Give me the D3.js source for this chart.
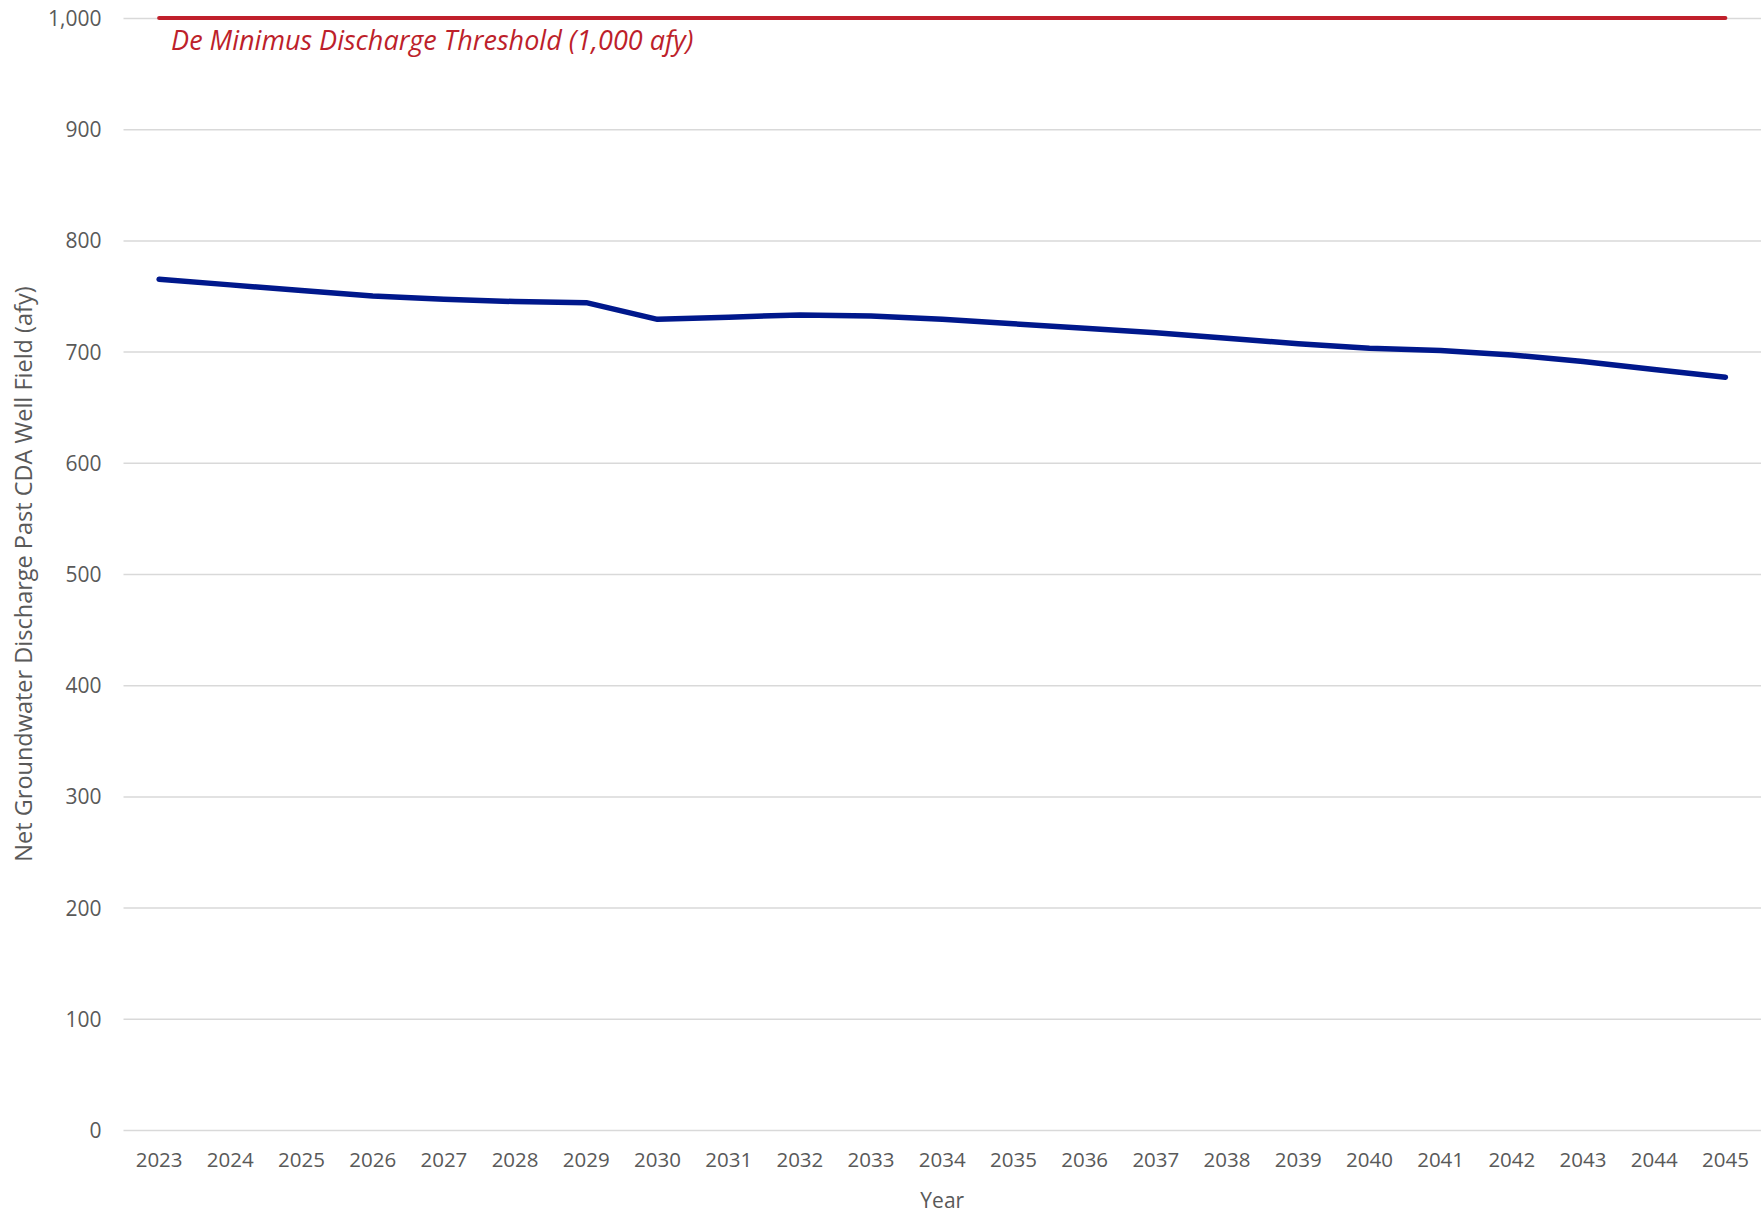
<!DOCTYPE html>
<html>
<head>
<meta charset="utf-8">
<script src="https://cdn.jsdelivr.net/npm/d3@7"></script>
<style>
  html, body { margin: 0; padding: 0; background: #fff; }
  svg { display: block; }
  text { font-family: "Open Sans", "Noto Sans", sans-serif; }
</style>
</head>
<body>
<svg id="chart" width="1761" height="1214"></svg>
<script>
// Projected net groundwater discharge past the CDA well field, by year
const years = ["2023","2024","2025","2026","2027","2028","2029","2030","2031","2032","2033","2034",
               "2035","2036","2037","2038","2039","2040","2041","2042","2043","2044","2045"];
const discharge = [765, 760, 755, 750, 747, 745, 744, 729, 731, 733, 732, 729,
                   725, 721, 717, 712, 707, 703, 701, 697, 691, 684, 677];
const threshold = 1000;
const thresholdLabel = "De Minimus Discharge Threshold (1,000 afy)";
const yTicks = [0, 100, 200, 300, 400, 500, 600, 700, 800, 900, 1000];

const W = 1761, H = 1214;
const plot = { left: 123.5, right: 1761, top: 18, bottom: 1130 };

const svg = d3.select("#chart");

const x = d3.scaleBand().domain(years).range([plot.left, plot.right]).padding(0);
const y = d3.scaleLinear().domain([0, 1000]).range([plot.bottom, plot.top]);
const cx = d => x(d) + x.bandwidth() / 2;

const grey = "#595959";

// Horizontal gridlines with value labels
const yAxis = d3.axisLeft(y).tickValues(yTicks).tickFormat(d3.format(",")).tickSize(-(plot.right - plot.left)).tickPadding(22);
const gy = svg.append("g").attr("transform", `translate(${plot.left},0)`).call(yAxis);
gy.select(".domain").remove();
gy.selectAll(".tick line").attr("stroke", "#d9d9d9").attr("stroke-width", 1.5);
gy.selectAll(".tick text").attr("fill", grey).attr("font-size", 21)
  .attr("font-family", "'Open Sans', sans-serif").attr("dy", "0.36em");

// Year labels along the bottom
const xAxis = d3.axisBottom(x).tickSize(0).tickPadding(22);
const gx = svg.append("g").attr("transform", `translate(0,${plot.bottom})`).call(xAxis);
gx.select(".domain").remove();
gx.selectAll(".tick text").attr("fill", grey).attr("font-size", 20.5)
  .attr("font-family", "'Open Sans', sans-serif");

// Threshold line at 1,000 afy
svg.append("line")
  .attr("x1", cx(years[0])).attr("x2", cx(years[years.length - 1]))
  .attr("y1", y(threshold)).attr("y2", y(threshold))
  .attr("stroke", "#c0202b").attr("stroke-width", 4).attr("stroke-linecap", "round");

svg.append("text")
  .attr("x", cx(years[0]) + 12).attr("y", y(threshold) + 32)
  .attr("fill", "#bd1f2b").attr("font-size", 27).attr("font-style", "italic")
  .text(thresholdLabel);

// Discharge series
const line = d3.line().x((d, i) => cx(years[i])).y(d => y(d));
svg.append("path")
  .datum(discharge)
  .attr("d", line)
  .attr("fill", "none")
  .attr("stroke", "#00188c")
  .attr("stroke-width", 5.5)
  .attr("stroke-linecap", "round")
  .attr("stroke-linejoin", "round");

// Axis titles
svg.append("text")
  .attr("transform", `translate(32,574) rotate(-90)`)
  .attr("text-anchor", "middle").attr("fill", grey).attr("font-size", 23.5)
  .text("Net Groundwater Discharge Past CDA Well Field (afy)");

svg.append("text")
  .attr("x", (plot.left + plot.right) / 2).attr("y", 1208)
  .attr("text-anchor", "middle").attr("fill", grey).attr("font-size", 21)
  .text("Year");
</script>
</body>
</html>
